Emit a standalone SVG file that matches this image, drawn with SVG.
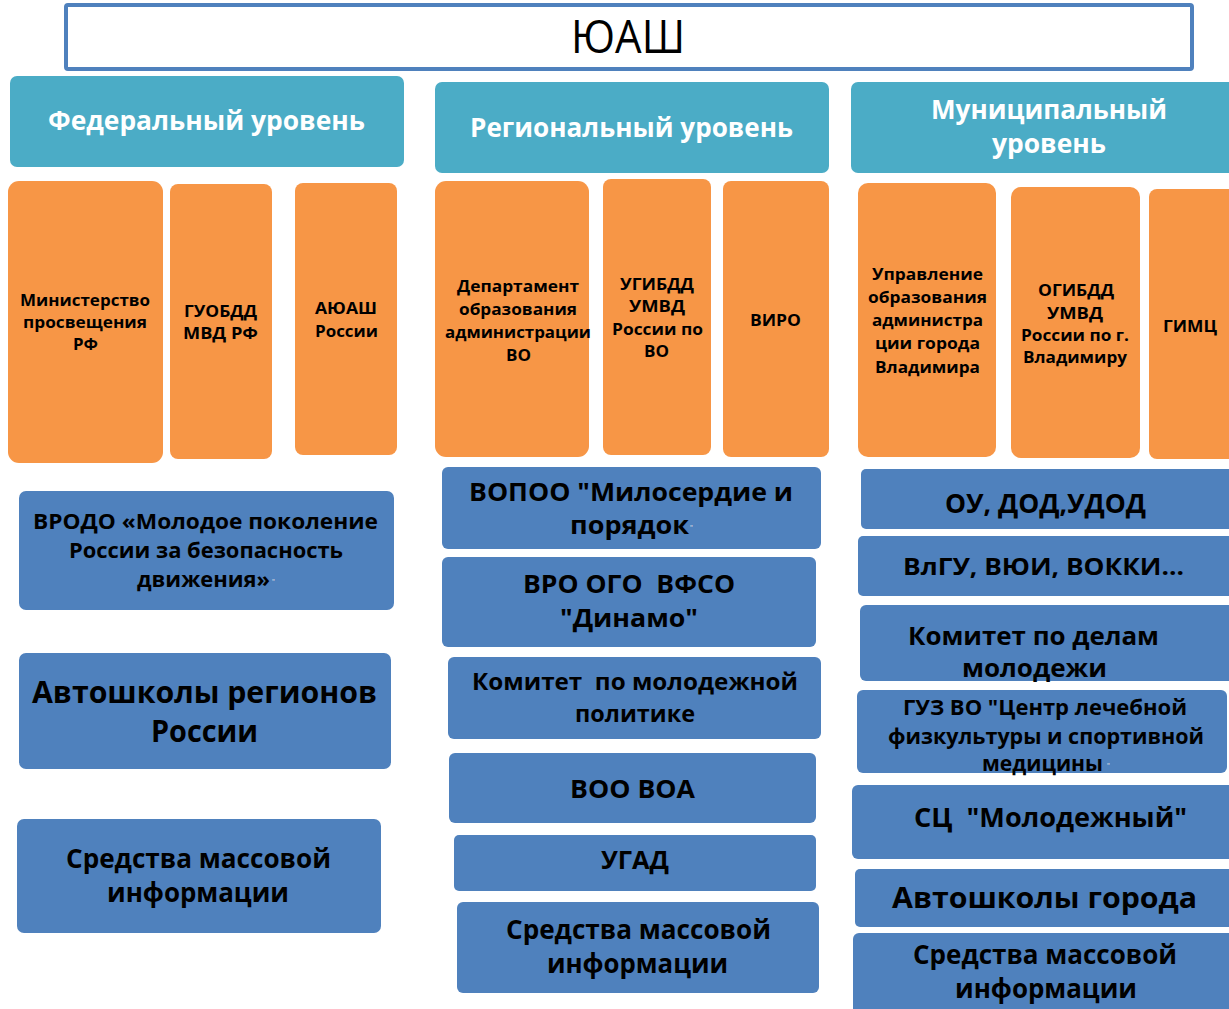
<svg xmlns="http://www.w3.org/2000/svg" width="1229" height="1009" viewBox="0 0 1229 1009">
<style>
text{font-family:"Open Sans","Noto Sans","DejaVu Sans",sans-serif;font-weight:700;text-anchor:middle;white-space:pre}
.hd{fill:#4BACC6}
.or{fill:#F79646}
.bl{fill:#4F81BD}
.ht{fill:#FFFFFF}
.k{fill:#000000}
.q{fill:#E6E6E6;font-size:7px;font-weight:400;text-anchor:start}
</style>
<rect width="1229" height="1009" fill="#FFFFFF"/>
<g id="title">
<rect x="66" y="5" width="1126" height="64" rx="2" fill="#FFFFFF" stroke="#4F81BD" stroke-width="4"/>
<text x="628" y="53" font-size="46" style="font-weight:400" class="k" textLength="114" lengthAdjust="spacingAndGlyphs">ЮАШ</text>
</g>
<g id="connectors"></g>
<g id="hdr-federal">
<rect class="hd" x="10" y="76" width="394" height="91" rx="7"/>
<text class="ht" x="206.5" y="130" font-size="26" textLength="317" lengthAdjust="spacingAndGlyphs">Федеральный уровень</text>
</g>
<g id="hdr-regional">
<rect class="hd" x="435" y="82" width="394" height="91" rx="7"/>
<text class="ht" x="631.5" y="137" font-size="26" textLength="323" lengthAdjust="spacingAndGlyphs">Региональный уровень</text>
</g>
<g id="hdr-municipal">
<rect class="hd" x="851" y="82" width="390" height="91" rx="7"/>
<text class="ht" x="1049" y="119" font-size="27" textLength="236" lengthAdjust="spacingAndGlyphs">Муниципальный</text>
<text class="ht" x="1049" y="153" font-size="27" textLength="114" lengthAdjust="spacingAndGlyphs">уровень</text>
</g>
<g id="fed-minpros">
<rect class="or" x="8" y="181" width="155" height="282" rx="11"/>
<text class="k" x="85" y="306" font-size="16.5" textLength="130" lengthAdjust="spacingAndGlyphs">Министерство</text>
<text class="k" x="85" y="328" font-size="16.5" textLength="124" lengthAdjust="spacingAndGlyphs">просвещения</text>
<text class="k" x="85.5" y="350" font-size="16.5" textLength="25" lengthAdjust="spacingAndGlyphs">РФ</text>
</g>
<g id="fed-guobdd">
<rect class="or" x="170" y="184" width="102" height="275" rx="8"/>
<text class="k" x="220.5" y="317" font-size="16.5" textLength="73" lengthAdjust="spacingAndGlyphs">ГУОБДД</text>
<text class="k" x="220.5" y="339" font-size="16.5" textLength="75" lengthAdjust="spacingAndGlyphs">МВД РФ</text>
</g>
<g id="fed-ayuash">
<rect class="or" x="295" y="183" width="102" height="272" rx="8"/>
<text class="k" x="346" y="314" font-size="16.5" textLength="62" lengthAdjust="spacingAndGlyphs">АЮАШ</text>
<text class="k" x="346.5" y="337" font-size="16.5" textLength="63" lengthAdjust="spacingAndGlyphs">России</text>
</g>
<g id="reg-dept">
<rect class="or" x="435" y="181" width="154" height="276" rx="11"/>
<text class="k" x="518" y="292" font-size="16.5" textLength="122" lengthAdjust="spacingAndGlyphs">Департамент</text>
<text class="k" x="518" y="315" font-size="16.5" textLength="118" lengthAdjust="spacingAndGlyphs">образования</text>
<text class="k" x="518" y="338" font-size="16.5" textLength="146" lengthAdjust="spacingAndGlyphs">администрации</text>
<text class="k" x="518.5" y="361" font-size="16.5" textLength="25" lengthAdjust="spacingAndGlyphs">ВО</text>
</g>
<g id="reg-ugibdd">
<rect class="or" x="603" y="179" width="108" height="276" rx="8"/>
<text class="k" x="657" y="290" font-size="16.5" textLength="74" lengthAdjust="spacingAndGlyphs">УГИБДД</text>
<text class="k" x="657" y="312" font-size="16.5" textLength="56" lengthAdjust="spacingAndGlyphs">УМВД</text>
<text class="k" x="657.5" y="335" font-size="16.5" textLength="91" lengthAdjust="spacingAndGlyphs">России по</text>
<text class="k" x="656.5" y="357" font-size="16.5" textLength="25" lengthAdjust="spacingAndGlyphs">ВО</text>
</g>
<g id="reg-viro">
<rect class="or" x="723" y="181" width="106" height="276" rx="8"/>
<text class="k" x="775.5" y="326" font-size="16.5" textLength="51" lengthAdjust="spacingAndGlyphs">ВИРО</text>
</g>
<g id="mun-uprav">
<rect class="or" x="858" y="183" width="138" height="274" rx="10"/>
<text class="k" x="927.5" y="280" font-size="16.5" textLength="111" lengthAdjust="spacingAndGlyphs">Управление</text>
<text class="k" x="927.5" y="303" font-size="16.5" textLength="119" lengthAdjust="spacingAndGlyphs">образования</text>
<text class="k" x="927.5" y="326" font-size="16.5" textLength="111" lengthAdjust="spacingAndGlyphs">администра</text>
<text class="k" x="927.5" y="349" font-size="16.5" textLength="105" lengthAdjust="spacingAndGlyphs">ции города</text>
<text class="k" x="927.5" y="373" font-size="16.5" textLength="105" lengthAdjust="spacingAndGlyphs">Владимира</text>
</g>
<g id="mun-ogibdd">
<rect class="or" x="1011" y="187" width="129" height="271" rx="10"/>
<text class="k" x="1076" y="296" font-size="16.5" textLength="76" lengthAdjust="spacingAndGlyphs">ОГИБДД</text>
<text class="k" x="1075" y="319" font-size="16.5" textLength="56" lengthAdjust="spacingAndGlyphs">УМВД</text>
<text class="k" x="1075" y="341" font-size="16.5" textLength="108" lengthAdjust="spacingAndGlyphs">России по г.</text>
<text class="k" x="1075" y="363" font-size="16.5" textLength="104" lengthAdjust="spacingAndGlyphs">Владимиру</text>
</g>
<g id="mun-gimc">
<rect class="or" x="1149" y="189" width="100" height="270" rx="8"/>
<text class="k" x="1190" y="332" font-size="16.5" textLength="54" lengthAdjust="spacingAndGlyphs">ГИМЦ</text>
</g>
<g id="fed-vrodo">
<rect class="bl" x="19" y="491" width="375" height="119" rx="7"/>
<text class="k" x="205.5" y="529" font-size="21.5" textLength="345" lengthAdjust="spacingAndGlyphs">ВРОДО «Молодое поколение</text>
<text class="k" x="206" y="558" font-size="21.5" textLength="274" lengthAdjust="spacingAndGlyphs">России за безопасность</text>
<text class="k" x="203.5" y="587" font-size="21.5" textLength="133" lengthAdjust="spacingAndGlyphs">движения»</text>
<text class="q" x="272" y="584">"</text>
</g>
<g id="fed-autoschools">
<rect class="bl" x="19" y="653" width="372" height="116" rx="7"/>
<text class="k" x="204.5" y="703" font-size="30" textLength="345" lengthAdjust="spacingAndGlyphs">Автошколы регионов</text>
<text class="k" x="204.5" y="742" font-size="30" textLength="107" lengthAdjust="spacingAndGlyphs">России</text>
</g>
<g id="fed-media">
<rect class="bl" x="17" y="819" width="364" height="114" rx="7"/>
<text class="k" x="198.5" y="868" font-size="26" textLength="265" lengthAdjust="spacingAndGlyphs">Средства массовой</text>
<text class="k" x="198" y="902" font-size="26" textLength="182" lengthAdjust="spacingAndGlyphs">информации</text>
</g>
<g id="reg-vopoo">
<rect class="bl" x="442" y="467" width="379" height="82" rx="6"/>
<text class="k" x="631" y="501" font-size="24.5" textLength="324" lengthAdjust="spacingAndGlyphs">ВОПОО "Милосердие и</text>
<text class="k" x="629.5" y="534" font-size="24.5" textLength="119" lengthAdjust="spacingAndGlyphs">порядок</text>
<text class="q" x="690" y="530">"</text>
</g>
<g id="reg-dinamo">
<rect class="bl" x="442" y="557" width="374" height="90" rx="6"/>
<text class="k" x="629" y="593" font-size="25.5" textLength="212" lengthAdjust="spacingAndGlyphs">ВРО ОГО  ВФСО</text>
<text class="k" x="629" y="627" font-size="25.5" textLength="138" lengthAdjust="spacingAndGlyphs">"Динамо"</text>
</g>
<g id="reg-youth">
<rect class="bl" x="448" y="657" width="373" height="82" rx="6"/>
<text class="k" x="635" y="690" font-size="23.5" textLength="326" lengthAdjust="spacingAndGlyphs">Комитет  по молодежной</text>
<text class="k" x="635" y="722" font-size="23.5" textLength="120" lengthAdjust="spacingAndGlyphs">политике</text>
</g>
<g id="reg-voa">
<rect class="bl" x="449" y="753" width="367" height="70" rx="6"/>
<text class="k" x="632.5" y="798" font-size="25.5" textLength="125" lengthAdjust="spacingAndGlyphs">ВОО ВОА</text>
</g>
<g id="reg-ugad">
<rect class="bl" x="454" y="835" width="362" height="56" rx="5"/>
<text class="k" x="635" y="869" font-size="25.5" textLength="68" lengthAdjust="spacingAndGlyphs">УГАД</text>
</g>
<g id="reg-media">
<rect class="bl" x="457" y="902" width="362" height="91" rx="6"/>
<text class="k" x="638.5" y="939" font-size="26" textLength="265" lengthAdjust="spacingAndGlyphs">Средства массовой</text>
<text class="k" x="637.5" y="973" font-size="26" textLength="181" lengthAdjust="spacingAndGlyphs">информации</text>
</g>
<g id="mun-ou">
<rect class="bl" x="861" y="469" width="380" height="60" rx="5"/>
<text class="k" x="1045.5" y="513" font-size="27" textLength="201" lengthAdjust="spacingAndGlyphs">ОУ, ДОД,УДОД</text>
</g>
<g id="mun-vlgu">
<rect class="bl" x="858" y="536" width="383" height="60" rx="5"/>
<text class="k" x="1043.5" y="575" font-size="24" textLength="281" lengthAdjust="spacingAndGlyphs">ВлГУ, ВЮИ, ВОККИ…</text>
</g>
<g id="mun-youth">
<rect class="bl" x="860" y="605" width="381" height="76" rx="6"/>
<text class="k" x="1033.5" y="645" font-size="25" textLength="251" lengthAdjust="spacingAndGlyphs">Комитет по делам</text>
<text class="k" x="1034.5" y="677" font-size="25" textLength="145" lengthAdjust="spacingAndGlyphs">молодежи</text>
</g>
<g id="mun-guz">
<rect class="bl" x="857" y="690" width="370" height="83" rx="6"/>
<text class="k" x="1045" y="715" font-size="21" textLength="284" lengthAdjust="spacingAndGlyphs">ГУЗ ВО "Центр лечебной</text>
<text class="k" x="1046" y="744" font-size="21" textLength="316" lengthAdjust="spacingAndGlyphs">физкультуры и спортивной</text>
<text class="k" x="1042.5" y="771" font-size="21" textLength="121" lengthAdjust="spacingAndGlyphs">медицины</text>
<text class="q" x="1107" y="768">"</text>
</g>
<g id="mun-sc">
<rect class="bl" x="852" y="785" width="389" height="74" rx="6"/>
<text class="k" x="1050.5" y="827" font-size="27" textLength="273" lengthAdjust="spacingAndGlyphs">СЦ  "Молодежный"</text>
</g>
<g id="mun-autoschools">
<rect class="bl" x="855" y="869" width="386" height="58" rx="5"/>
<text class="k" x="1044.5" y="908" font-size="28" textLength="305" lengthAdjust="spacingAndGlyphs">Автошколы города</text>
</g>
<g id="mun-media">
<rect class="bl" x="853" y="933" width="388" height="90" rx="6"/>
<text class="k" x="1045" y="964" font-size="26" textLength="264" lengthAdjust="spacingAndGlyphs">Средства массовой</text>
<text class="k" x="1046" y="998" font-size="26" textLength="182" lengthAdjust="spacingAndGlyphs">информации</text>
</g>
</svg>
